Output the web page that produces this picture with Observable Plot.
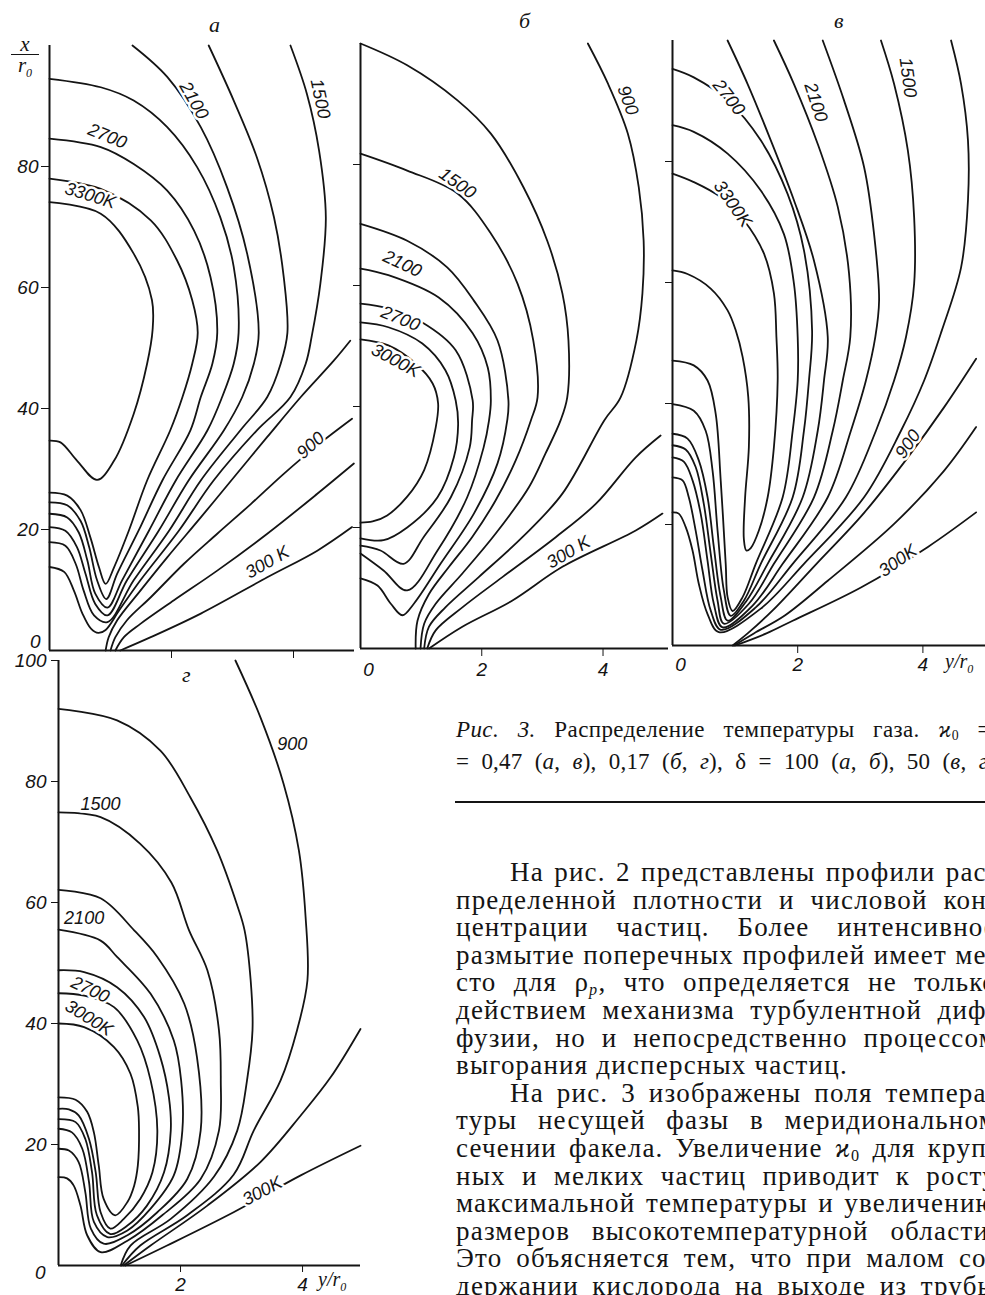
<!DOCTYPE html>
<html>
<head>
<meta charset="utf-8">
<script src="https://cdn.jsdelivr.net/npm/d3@7"></script>
<script src="https://cdn.jsdelivr.net/npm/@observablehq/plot@0.6"></script>
<style>
  html, body { margin: 0; padding: 0; background: #fff; overflow: hidden; }
  #page { position: relative; width: 985px; height: 1295px; overflow: hidden; background: #fff; color: #141414; }
  #page svg { position: absolute; overflow: visible; background: transparent !important; max-width: none !important; }
  .ov { position: absolute; font-family: "Liberation Serif", serif; font-style: italic; color: #141414; white-space: nowrap; }
  .row { position: absolute; display: flex; justify-content: space-between; white-space: nowrap; font-family: "Liberation Serif", serif; color: #141414; overflow: visible; }
  .row span { white-space: nowrap; }
  .row sub { font-size: 0.6em; vertical-align: -0.25em; line-height: 0; }
</style>
</head>
<body>
<div id="page"></div>
<script>
// ---------------- data (x = y/r0, y = x/r0) ----------------
// panel а
const a3300 = [[0,74.1],[0.84,72.2],[1.38,65.6],[1.68,57.9],[1.69,53.0],[1.60,47.4],[1.38,39.1],[1.06,31.4],[0.78,28.2],[0.45,31.4],[0.18,34.4],[0,34.7]];
const a3000 = [[0,78.0],[0.84,76.3],[1.66,71.1],[2.09,64.5],[2.34,57.9],[2.43,52.5],[2.34,47.4],[2.18,41.9],[1.98,36.4],[1.60,28.1],[1.30,19.8],[1.06,13.8],[0.92,11.0],[0.81,13.8],[0.67,18.7],[0.51,23.2],[0.29,25.6],[0,26.1]];
const a2700 = [[0,84.6],[0.84,83.2],[1.38,80.4],[1.93,76.0],[2.37,69.4],[2.64,61.7],[2.75,52.5],[2.67,47.4],[2.48,41.9],[2.31,36.4],[1.85,28.1],[1.46,19.8],[1.11,12.7],[0.93,8.5],[0.78,11.6],[0.65,17.1],[0.51,21.4],[0.29,24.0],[0,24.5]];
const a2400 = [[0,94.5],[0.84,93.1],[1.38,90.9],[1.93,86.5],[2.42,79.9],[2.80,71.6],[3.02,63.4],[3.10,52.5],[3.02,47.4],[2.83,41.9],[2.59,36.4],[2.07,28.1],[1.63,19.8],[1.19,11.6],[0.95,7.1],[0.75,9.4],[0.62,14.9],[0.48,19.5],[0.29,22.0],[0,22.6]];
const a2100 = [[1.36,100],[1.93,94.8],[2.48,86.5],[2.91,76.6],[3.24,65.6],[3.43,52.5],[3.35,47.4],[3.16,41.9],[2.86,36.4],[2.28,28.1],[1.79,19.8],[1.27,11.6],[0.95,5.8],[0.75,7.7],[0.59,12.7],[0.45,17.1],[0.26,19.8],[0,20.4]];
const a1800 = [[2.61,100],[3.02,90.9],[3.40,81.5],[3.68,71.6],[3.84,61.7],[3.90,52.5],[3.79,47.4],[3.57,41.9],[3.13,36.4],[2.48,28.1],[1.96,19.8],[1.38,11.6],[0.95,4.7],[0.73,5.8],[0.56,9.9],[0.43,14.3],[0.26,17.3],[0,17.9]];
const a1500 = [[3.95,100],[4.22,92.0],[4.42,82.6],[4.53,71.6],[4.44,60.6],[4.30,52.0],[4.20,47.4],[3.95,41.9],[3.40,36.4],[2.69,28.1],[2.12,19.8],[1.49,11.6],[1.14,6.6],[0.92,3.4],[0.80,2.9],[0.68,3.6],[0.54,6.1],[0.40,9.9],[0.24,13.0],[0,13.8]];
const a1200 = [[0.92,0],[0.97,2.2],[1.11,5.0],[1.49,9.9],[1.93,15.4],[2.48,22.0],[3.02,28.6],[3.57,35.3],[4.12,41.9],[4.66,47.9],[4.93,51.2]];
const a900  = [[1.00,0],[1.08,2.2],[1.27,5.0],[1.66,8.8],[2.20,14.3],[2.75,19.3],[3.30,24.2],[3.84,29.2],[4.39,33.9],[4.96,38.3]];
const a600  = [[1.08,0],[1.22,2.2],[1.49,4.4],[2.04,8.3],[2.75,13.2],[3.57,19.3],[4.39,25.9],[4.99,30.9]];
const a300  = [[1.16,0],[1.66,2.2],[2.48,6.1],[3.57,12.1],[4.39,16.5],[4.96,20.4]];

// panel б
const b3000 = [[0,51.1],[0.46,50.1],[0.91,47.1],[1.19,43.8],[1.28,40.5],[1.24,36.5],[1.05,29.5],[0.77,25.1],[0.44,22.0],[0.20,21.0],[0,20.8]];
const b2700 = [[0,53.9],[0.46,53.1],[1.02,50.4],[1.40,46.0],[1.57,41.0],[1.61,37.0],[1.54,31.6],[1.27,25.0],[0.77,20.0],[0.38,17.9],[0,18.2]];
const b2400 = [[0,57.0],[0.46,56.2],[1.02,53.9],[1.57,49.3],[1.85,41.0],[1.84,37.7],[1.80,33.2],[1.49,25.0],[1.04,18.4],[0.71,14.0],[0.33,16.2],[0,17.0]];
const b2100 = [[0,62.8],[0.46,61.7],[1.29,58.0],[1.85,52.1],[2.10,46.4],[2.15,41.0],[2.12,37.7],[2.03,33.2],[1.76,25.0],[1.27,16.2],[0.77,9.6],[0.38,12.9],[0,15.7]];
const b1800 = [[0,70.2],[0.77,67.4],[1.43,63.0],[1.87,57.5],[2.26,50.9],[2.44,41.0],[2.42,37.7],[2.26,30.6],[1.87,22.3],[1.32,14.0],[0.88,7.4],[0.69,5.5],[0.50,7.4],[0.28,10.4],[0,11.6]];
const b1500 = [[0,81.8],[0.77,79.0],[1.60,75.2],[2.15,68.6],[2.59,60.3],[2.85,50.9],[2.92,41.5],[2.81,37.7],[2.56,31.1],[2.23,24.5],[1.84,18.4],[1.46,13.5],[1.13,9.0],[0.94,4.6],[0.91,0]];
const b1200 = [[0,100],[0.77,96.4],[1.60,90.6],[2.15,85.1],[2.69,76.2],[3.08,67.4],[3.33,58.7],[3.43,50.9],[3.41,41.5],[3.30,37.7],[3.05,32.2],[2.78,26.7],[2.23,19.0],[1.68,12.4],[1.24,7.4],[1.05,4.1],[0.99,0]];
const b900  = [[3.75,100],[4.08,93.4],[4.41,85.1],[4.59,76.2],[4.67,67.4],[4.65,58.7],[4.55,50.9],[4.29,41.5],[4.02,37.7],[3.33,25.6],[2.67,18.4],[1.95,11.8],[1.40,6.8],[1.13,3.6],[1.05,0]];
const b600  = [[1.10,0],[1.24,3.0],[1.68,6.8],[2.34,11.8],[3.22,18.4],[3.88,23.9],[4.54,31.6],[4.95,35.2]];
const b300  = [[1.13,0],[1.68,3.6],[2.50,7.9],[3.33,13.5],[4.54,19.5],[4.98,22.3]];

// panel в
const v3300 = [[0,78.0],[0.34,76.6],[0.77,74.1],[1.14,70.3],[1.46,64.8],[1.62,58.2],[1.66,51.0],[1.68,43.8],[1.62,32.8],[1.52,24.5],[1.38,19.0],[1.25,16.1],[1.18,15.7],[1.14,17.6],[1.16,24.5],[1.22,32.8],[1.21,41.1],[1.12,47.7],[1.01,52.1],[0.88,55.4],[0.61,59.0],[0.24,61.4],[0,62.0]];
const v3000 = [[0,86.0],[0.34,84.9],[0.88,81.3],[1.41,75.2],[1.78,68.0],[1.94,59.8],[2.00,51.0],[2.00,43.8],[1.92,35.5],[1.76,24.5],[1.33,13.5],[1.12,8.0],[0.96,5.7],[0.88,8.0],[0.85,13.5],[0.77,27.3],[0.69,38.3],[0.56,43.8],[0.34,46.3],[0,47.1]];
const v2700 = [[0,95.3],[0.34,93.9],[0.88,90.1],[1.41,83.5],[1.84,74.6],[2.10,65.3],[2.23,52.0],[2.18,43.8],[2.10,35.5],[1.92,24.5],[1.41,13.5],[1.14,7.4],[0.93,4.9],[0.82,9.1],[0.72,19.0],[0.64,28.9],[0.53,35.5],[0.34,38.8],[0,39.9]];
const v2400 = [[0.88,100],[1.20,92.8],[1.57,83.5],[1.94,73.6],[2.26,63.6],[2.48,51.0],[2.42,43.8],[2.32,35.5],[2.08,24.5],[1.52,13.5],[1.17,7.2],[0.88,4.1],[0.77,8.0],[0.66,16.3],[0.56,24.5],[0.42,30.6],[0.24,34.2],[0,35.0]];
const v2100 = [[1.62,100],[1.94,92.8],[2.32,82.9],[2.64,72.5],[2.82,61.5],[2.84,51.0],[2.72,43.8],[2.56,35.5],[2.26,24.5],[1.62,13.5],[1.22,6.9],[0.82,3.6],[0.72,7.4],[0.61,15.2],[0.50,23.4],[0.37,29.5],[0.21,32.4],[0,33.1]];
const v1800 = [[2.40,100],[2.74,90.1],[3.06,79.1],[3.22,68.0],[3.30,57.0],[3.24,51.0],[3.09,43.8],[2.85,35.5],[2.48,24.5],[1.76,13.5],[1.28,6.6],[0.80,3.0],[0.66,6.9],[0.56,14.0],[0.45,21.8],[0.32,27.3],[0.18,30.4],[0,31.1]];
const v1500 = [[3.33,100],[3.54,92.8],[3.76,81.8],[3.86,70.8],[3.86,59.8],[3.73,51.0],[3.54,43.8],[3.25,35.5],[2.77,24.5],[1.92,13.5],[1.33,6.3],[0.77,2.6],[0.61,5.8],[0.48,12.4],[0.37,19.0],[0.26,24.5],[0.16,27.3],[0,27.8]];
const v1200 = [[4.45,100],[4.61,92.8],[4.72,83.5],[4.72,73.6],[4.61,62.5],[4.30,52.0],[4.02,43.8],[3.65,35.5],[3.06,24.5],[2.10,13.5],[1.41,6.1],[0.74,2.2],[0.56,5.2],[0.42,10.2],[0.32,15.7],[0.21,19.6],[0.10,21.8],[0,22.0]];
const v900  = [[0.96,0],[1.20,2.0],[1.60,5.8],[2.30,13.5],[3.05,21.8],[3.76,31.1],[4.34,39.4],[4.85,47.4]];
const v600  = [[0.98,0],[1.30,2.0],[1.80,5.0],[2.48,10.7],[3.54,20.1],[4.34,28.9],[4.85,36.1]];
const v300  = [[1.00,0],[1.50,2.0],[1.92,4.1],[3.01,9.6],[4.08,16.3],[4.85,22.0]];

// panel г
const g3000 = [[0,40.0],[0.42,39.4],[0.91,36.1],[1.18,31.7],[1.30,26.2],[1.32,22.3],[1.30,16.5],[1.24,13.2],[1.13,10.5],[0.93,8.3],[0.74,11.0],[0.66,16.5],[0.58,22.0],[0.47,25.4],[0.28,27.4],[0,27.8]];
const g2700 = [[0,45.0],[0.42,44.6],[0.91,42.7],[1.29,37.2],[1.51,30.6],[1.62,22.3],[1.54,15.4],[1.34,11.0],[1.07,7.7],[0.85,6.1],[0.69,8.8],[0.61,15.4],[0.50,20.9],[0.33,24.8],[0.17,25.8],[0,25.9]];
const g2400 = [[0,48.8],[0.42,48.5],[0.96,46.0],[1.40,41.1],[1.67,34.4],[1.81,27.8],[1.84,22.3],[1.73,15.4],[1.45,9.9],[1.13,6.6],[0.85,5.2],[0.63,8.3],[0.55,15.4],[0.44,20.9],[0.28,23.7],[0,24.2]];
const g2100 = [[0,55.5],[0.69,53.7],[0.96,51.0],[1.51,44.9],[1.89,37.2],[2.01,30.6],[2.03,22.3],[1.89,14.9],[1.51,9.4],[1.13,5.8],[0.80,4.7],[0.58,7.2],[0.50,13.8],[0.39,19.3],[0.22,22.0],[0,22.6]];
const g1800 = [[0,62.1],[0.69,60.7],[1.24,55.4],[1.62,51.0],[2.06,43.3],[2.27,34.4],[2.33,22.3],[2.11,14.3],[1.62,8.8],[1.13,5.0],[0.74,3.6],[0.53,6.1],[0.44,12.1],[0.33,17.1],[0.17,19.0],[0,19.3]];
const g1500 = [[0,74.9],[0.69,74.1],[1.34,69.7],[1.85,63.3],[2.14,55.4],[2.44,48.8],[2.63,38.9],[2.66,30.6],[2.63,22.3],[2.33,14.3],[1.70,8.3],[1.13,4.1],[0.69,2.2],[0.47,5.0],[0.36,9.9],[0.25,13.2],[0.14,14.4],[0,14.6]];
const g1200 = [[0,92.0],[0.96,90.1],[1.67,85.1],[2.16,77.4],[2.60,68.6],[2.93,59.5],[3.05,55.4],[3.15,47.1],[3.18,38.9],[3.09,30.6],[2.93,22.3],[2.55,14.7],[1.84,7.7],[1.18,3.3],[1.02,0]];
const g900  = [[2.90,100],[3.31,90.6],[3.69,79.6],[3.94,68.6],[4.05,57.6],[4.08,47.1],[3.91,38.9],[3.64,30.6],[3.20,22.3],[2.87,15.0],[2.11,8.3],[1.34,3.3],[1.04,0]];
const g600  = [[1.07,0],[1.51,3.3],[2.44,9.9],[3.31,17.1],[3.97,24.8],[4.46,31.1],[4.95,39.1]];
const g300  = [[1.10,0],[1.78,3.3],[2.87,8.8],[3.97,14.9],[4.95,19.8]];

// contour labels
const labelsA = [
  {t:"2100", x:2.37, y:90.9, r:60}, {t:"1500", x:4.44, y:91.2, r:78},
  {t:"2700", x:0.95, y:85.0, r:22}, {t:"3300K", x:0.67, y:75.2, r:17},
  {t:"900", x:4.28, y:33.9, r:-42}, {t:"300 K", x:3.57, y:14.6, r:-30}
];
const labelsB = [
  {t:"900", x:4.41, y:90.6, r:70}, {t:"1500", x:1.60, y:76.9, r:35},
  {t:"2100", x:0.69, y:63.6, r:25}, {t:"2700", x:0.66, y:54.5, r:22},
  {t:"3000K", x:0.58, y:47.6, r:28}, {t:"300 K", x:3.43, y:15.9, r:-30}
];
const labelsV = [
  {t:"2700", x:0.90, y:90.6, r:52}, {t:"2100", x:2.29, y:89.8, r:72},
  {t:"1500", x:3.76, y:93.9, r:82}, {t:"3300K", x:0.96, y:73.0, r:55},
  {t:"900", x:3.76, y:33.3, r:-55}, {t:"300K", x:3.60, y:14.0, r:-35}
];
const labelsG = [
  {t:"900", x:3.83, y:86.2, r:0}, {t:"1500", x:0.69, y:76.2, r:0},
  {t:"2100", x:0.42, y:57.4, r:0}, {t:"2700", x:0.52, y:45.6, r:25},
  {t:"3000K", x:0.50, y:40.9, r:32}, {t:"300K", x:3.34, y:12.3, r:-28}
];

const yTicks = [20, 40, 60, 80];
const xTicks = [2, 4];

// ---------------- drawing ----------------
const INK = "#141414";
const page = document.getElementById("page");
const fmt = d => String(d);

function rows(list) {
  return list.flatMap(({T, pts}) => pts.map(([x, y]) => ({x, y, id: T})));
}

function contourMarks(list, labels) {
  return [
    Plot.line(rows(list), {x: "x", y: "y", z: "id", curve: "catmull-rom", stroke: INK, strokeWidth: 1.8}),
    Plot.text(labels, {x: "x", y: "y", text: "t", rotate: "r", fontSize: 18, fontStyle: "italic",
      fontFamily: "Liberation Sans", fill: INK, stroke: "white", strokeWidth: 5, paintOrder: "stroke"})
  ];
}

const axisFont = {fontSize: 19, fontStyle: "italic", fontFamily: "Liberation Sans", fill: INK};

function frameMarks() {
  return [
    Plot.ruleX([0], {stroke: INK, strokeWidth: 2}),
    Plot.ruleY([0], {stroke: INK, strokeWidth: 2})
  ];
}

function place(svg, left, top) {
  svg.style.position = "absolute";
  svg.style.left = left + "px";
  svg.style.top = top + "px";
  page.appendChild(svg);
}

const common = (w, h, mL, mT, mR, mB, xMax) => ({
  width: w, height: h, marginLeft: mL, marginTop: mT, marginRight: mR, marginBottom: mB,
  x: {domain: [0, xMax], label: null},
  y: {domain: [0, 100], label: null},
  style: {background: "transparent", color: INK, fontFamily: "Liberation Sans", fontStyle: "italic", overflow: "visible"}
});

// panel а
place(Plot.plot({
  ...common(360, 664, 49, 45, 6, 14, 5.0),
  marks: [
    ...frameMarks(),
    Plot.axisY({ticks: yTicks, tickSize: 8, tickPadding: 3, tickFormat: fmt, label: null, ...axisFont}),
    Plot.axisY({ticks: [0], tickSize: 0, tickPadding: 9, dy: -9, tickFormat: fmt, label: null, ...axisFont}),
    Plot.axisX({ticks: xTicks, tickSize: 8, tickFormat: () => "", label: null}),
    ...contourMarks([
      {T: 3300, pts: a3300}, {T: 3000, pts: a3000}, {T: 2700, pts: a2700}, {T: 2400, pts: a2400},
      {T: 2100, pts: a2100}, {T: 1800, pts: a1800}, {T: 1500, pts: a1500}, {T: 1200, pts: a1200},
      {T: 900, pts: a900}, {T: 600, pts: a600}, {T: 300, pts: a300}
    ], labelsA)
  ]
}), 0, 0);

// panel б
place(Plot.plot({
  ...common(325, 683, 15, 43, 2, 35, 5.08),
  marks: [
    ...frameMarks(),
    Plot.axisY({ticks: yTicks, tickSize: 7, tickFormat: () => "", label: null}),
    Plot.axisX({ticks: xTicks, tickSize: 8, tickPadding: 6, tickFormat: fmt, label: null, ...axisFont}),
    Plot.axisX({ticks: [0], tickSize: 0, tickPadding: 14, dx: 8, tickFormat: fmt, label: null, ...axisFont}),
    ...contourMarks([
      {T: 3000, pts: b3000}, {T: 2700, pts: b2700}, {T: 2400, pts: b2400}, {T: 2100, pts: b2100},
      {T: 1800, pts: b1800}, {T: 1500, pts: b1500}, {T: 1200, pts: b1200}, {T: 900, pts: b900},
      {T: 600, pts: b600}, {T: 300, pts: b300}
    ], labelsB)
  ]
}), 345, 0);

// panel в
place(Plot.plot({
  ...common(328, 683, 15, 40, 0, 38, 5.0),
  marks: [
    ...frameMarks(),
    Plot.axisY({ticks: yTicks, tickSize: 7, tickFormat: () => "", label: null}),
    Plot.axisX({ticks: xTicks, tickSize: 8, tickPadding: 4, tickFormat: fmt, label: null, ...axisFont}),
    Plot.axisX({ticks: [0], tickSize: 0, tickPadding: 12, dx: 8, tickFormat: fmt, label: null, ...axisFont}),
    ...contourMarks([
      {T: 3300, pts: v3300}, {T: 3000, pts: v3000}, {T: 2700, pts: v2700}, {T: 2400, pts: v2400},
      {T: 2100, pts: v2100}, {T: 1800, pts: v1800}, {T: 1500, pts: v1500}, {T: 1200, pts: v1200},
      {T: 900, pts: v900}, {T: 600, pts: v600}, {T: 300, pts: v300}
    ], labelsV)
  ]
}), 657, 0);

// panel г
place(Plot.plot({
  ...common(365, 645, 58, 10, 5, 30, 4.95),
  marks: [
    ...frameMarks(),
    Plot.axisY({ticks: [...yTicks, 100], tickSize: 7, tickPadding: 5, tickFormat: fmt, label: null, ...axisFont}),
    Plot.axisY({ticks: [0], tickSize: 0, tickPadding: 13, dy: 7, tickFormat: fmt, label: null, ...axisFont}),
    Plot.axisX({ticks: xTicks, tickSize: 7, tickPadding: 5, tickFormat: fmt, label: null, ...axisFont}),
    ...contourMarks([
      {T: 3000, pts: g3000}, {T: 2700, pts: g2700}, {T: 2400, pts: g2400}, {T: 2100, pts: g2100},
      {T: 1800, pts: g1800}, {T: 1500, pts: g1500}, {T: 1200, pts: g1200}, {T: 900, pts: g900},
      {T: 600, pts: g600}, {T: 300, pts: g300}
    ], labelsG)
  ]
}), 0, 650);

// ---------------- overlay text ----------------
function ov(html, left, top, size, extra) {
  const d = document.createElement("div");
  d.className = "ov";
  d.style.left = left + "px";
  d.style.top = top + "px";
  d.style.fontSize = size + "px";
  if (extra) Object.assign(d.style, extra);
  d.innerHTML = html;
  page.appendChild(d);
  return d;
}
// panel letters
ov("а", 209, 12, 22);
ov("б", 519, 8, 22);
ov("в", 834, 8, 22);
ov("г", 182, 662, 22);
// axis titles
ov('<div style="text-align:center;line-height:17px;height:17px">x</div><div style="border-top:1.6px solid #141414;text-align:center;line-height:20px;height:20px;margin-top:1px">r<sub style="font-size:12px;line-height:0">0</sub></div>', 11, 36, 21, {width: "28px"});
ov('y/r<sub style="font-size:12px">0</sub>', 945, 650, 20);
ov('y/r<sub style="font-size:12px">0</sub>', 318, 1268, 20);

// caption and body text
function row(words, left, top, width, size, lh, extra) {
  const d = document.createElement("div");
  d.className = "row";
  d.style.left = left + "px";
  d.style.top = top + "px";
  d.style.width = width + "px";
  d.style.fontSize = size + "px";
  d.style.lineHeight = lh + "px";
  d.style.height = lh + "px";
  if (extra) Object.assign(d.style, extra);
  words.forEach(w => { const s = document.createElement("span"); s.innerHTML = w; d.appendChild(s); });
  page.appendChild(d);
}
const capLines = [
  ["<i>Рис.</i>", "<i>3.</i>", "Распределение", "температуры", "газа.", "<i>ϰ</i><sub>0</sub>", "="],
  ["=", "0,47", "(<i>а</i>,", "<i>в</i>),", "0,17", "(<i>б</i>,", "<i>г</i>),", "δ", "=", "100", "(<i>а</i>,", "<i>б</i>),", "50", "(<i>в</i>,", "<i>г</i>)"]
];
row(capLines[0], 456, 717, 535, 23, 25, {letterSpacing: "0.4px"});
row(capLines[1], 456, 749, 540, 23, 25, {letterSpacing: "0.2px"});
const rule = document.createElement("div");
Object.assign(rule.style, {position: "absolute", left: "455px", top: "801px", width: "540px", height: "2px", background: INK});
page.appendChild(rule);

const body = [
  ["На рис. 2 представлены профили рас-", 1, 0],
  ["пределенной плотности и числовой кон-", 0, 0],
  ["центрации частиц. Более интенсивное", 0, 0],
  ["размытие поперечных профилей имеет ме-", 0, 0],
  ["сто для ρ<sub><i>p</i></sub>, что определяется не только", 0, 0],
  ["действием механизма турбулентной диф-", 0, 0],
  ["фузии, но и непосредственно процессом", 0, 0],
  ["выгорания дисперсных частиц.", 0, 1],
  ["На рис. 3 изображены поля темпера-", 1, 0],
  ["туры несущей фазы в меридиональном", 0, 0],
  ["сечении факела. Увеличение <i>ϰ</i><sub>0</sub> для круп-", 0, 0],
  ["ных и мелких частиц приводит к росту", 0, 0],
  ["максимальной температуры и увеличению", 0, 0],
  ["размеров высокотемпературной области.", 0, 0],
  ["Это объясняется тем, что при малом со-", 0, 0],
  ["держании кислорода на выходе из трубы", 0, 0]
];
body.forEach(([txt, indent, last], i) => {
  const words = txt.split(" ");
  const left = 456 + (indent ? 54 : 0);
  const width = 541 - (indent ? 54 : 0);
  const top = 859 + i * 27.6;
  if (last) {
    row([words.join(" ")], left, top, width, 27, 26, {justifyContent: "flex-start", letterSpacing: "1.2px"});
  } else {
    row(words, left, top, width, 27, 26, {letterSpacing: "1.2px"});
  }
});
</script>
</body>
</html>
